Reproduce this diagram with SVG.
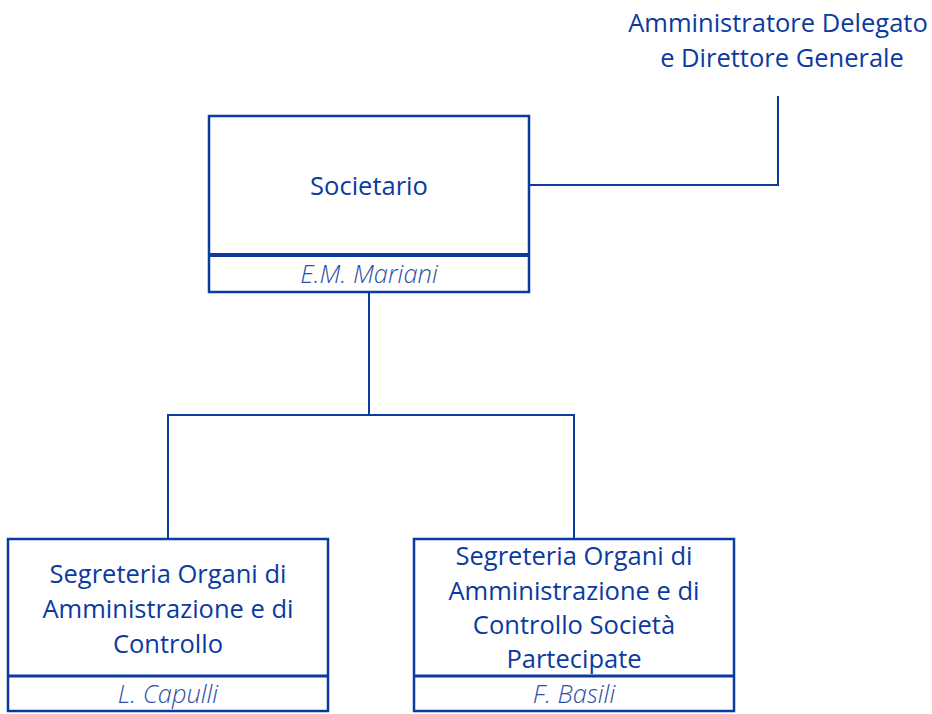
<svg xmlns="http://www.w3.org/2000/svg" width="932" height="714" viewBox="0 0 932 714">
<style>
.box{fill:#fff;stroke:#0b3aa0;stroke-width:2.5}
.div{stroke:#0b3aa0;stroke-width:3}
.conn{fill:none;stroke:#0b3aa0;stroke-width:2}
text{font-family:"Open Sans","Noto Sans",sans-serif;fill:#0b3aa0;text-anchor:middle}
.t{font-size:25.5px}
.n{font-size:25.5px;font-style:italic;font-weight:300;fill:#2d4fa8}
</style>
<rect width="932" height="714" fill="#fff"/>
<g id="connectors">
<polyline class="conn" points="529,185 778,185 778,96"/>
<polyline class="conn" points="369,292 369,415"/>
<polyline class="conn" points="168,538 168,415 574,415 574,538"/>
</g>
<g id="ad">
<text class="t" x="778" y="32">Amministratore Delegato</text>
<text class="t" x="782" y="67">e Direttore Generale</text>
</g>
<g id="societario">
<rect class="box" x="209" y="116" width="320" height="176"/>
<line class="div" x1="209" y1="255" x2="529" y2="255" style="stroke-width:4"/>
<text class="t" x="369" y="195">Societario</text>
<text class="n" x="369" y="283">E.M. Mariani</text>
</g>
<g id="segreteria1">
<rect class="box" x="8" y="539" width="320" height="172"/>
<line class="div" x1="8" y1="676" x2="328" y2="676"/>
<text class="t" x="168" y="583">Segreteria Organi di</text>
<text class="t" x="168" y="618">Amministrazione e di</text>
<text class="t" x="168" y="653">Controllo</text>
<text class="n" x="168" y="703">L. Capulli</text>
</g>
<g id="segreteria2">
<rect class="box" x="414" y="539" width="320" height="172"/>
<line class="div" x1="414" y1="676" x2="734" y2="676"/>
<text class="t" x="574" y="565">Segreteria Organi di</text>
<text class="t" x="574" y="600">Amministrazione e di</text>
<text class="t" x="574" y="634">Controllo Società</text>
<text class="t" x="574" y="668">Partecipate</text>
<text class="n" x="574" y="703">F. Basili</text>
</g>
</svg>
